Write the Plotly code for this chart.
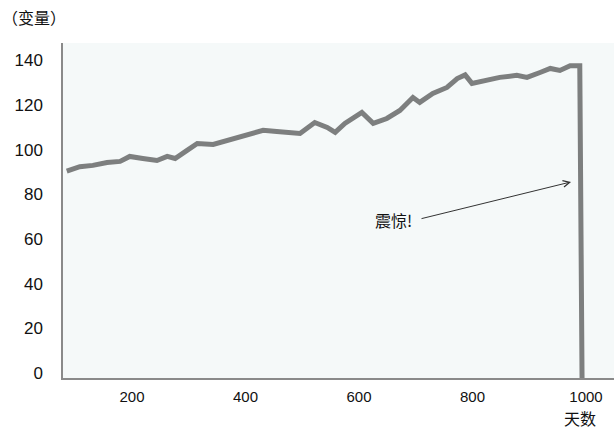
import plotly.graph_objects as go

days = [85, 108, 131, 156, 179, 196, 219, 244, 262, 276, 297, 315, 343, 367, 387,
        408, 431, 455, 478, 496, 522, 544, 558, 575, 605, 625, 649, 672, 695, 707,
        730, 755, 773, 787, 799, 826, 848, 878, 896, 919, 937, 954, 972, 989, 993]
values = [92.6, 94.6, 95.2, 96.5, 97.0, 99.2, 98.3, 97.4, 99.2, 98.3, 101.9, 105.0,
          104.6, 106.4, 107.7, 109.5, 110.9, 110.4, 110.0, 109.5, 114.4, 112.2, 110.0,
          114.0, 118.9, 114.0, 116.2, 119.8, 125.6, 123.4, 127.4, 130.1, 134.1, 135.7,
          131.9, 133.3, 134.6, 135.5, 134.6, 136.8, 138.6, 137.7, 139.8, 139.8, 0]
x_ticks = [200, 400, 600, 800, 1000]
y_ticks = [0, 20, 40, 60, 80, 100, 120, 140]

font = "Liberation Sans, Arial, sans-serif"
cjk = "Noto Sans CJK SC"

fig = go.Figure()
fig.add_trace(go.Scatter(x=days, y=values, mode="lines",
                         line=dict(color="#7d7f7f", width=5, shape="linear"),
                         hoverinfo="skip", showlegend=False))

fig.update_layout(
    width=614, height=439,
    margin=dict(l=63, r=0, t=43, b=61, autoexpand=False),
    paper_bgcolor="white",
    plot_bgcolor="#f5f9f9",
    xaxis=dict(range=[78.4, 1049.3], tickvals=x_ticks, showgrid=False, zeroline=False,
               showline=True, linecolor="#8a8a8a", linewidth=1.5,
               ticks="outside", ticklen=4, tickcolor="rgba(0,0,0,0)",
               automargin=False,
               tickfont=dict(family=font, size=15, color="#111")),
    yaxis=dict(range=[0, 150], tickvals=y_ticks, showgrid=False, zeroline=False,
               showline=True, linecolor="#8a8a8a", linewidth=1.5,
               ticks="outside", ticklen=15, tickcolor="rgba(0,0,0,0)",
               ticklabelshift=-5, automargin=False,
               tickfont=dict(family=font, size=17, color="#111")),
    annotations=[
        dict(text="（变量）", xref="paper", yref="paper", x=-63/551, y=1 + 26/335,
             xanchor="left", yanchor="middle", showarrow=False,
             font=dict(family=cjk, size=16, color="#111")),
        dict(text="天数", xref="paper", yref="paper", x=(580 - 63) / 551, y=-40/335,
             xanchor="center", yanchor="middle", showarrow=False,
             font=dict(family=cjk, size=16, color="#111")),
        dict(text="震惊!", x=660, y=70.8, xref="x", yref="y", showarrow=False,
             font=dict(family=cjk, size=16, color="#111")),
        dict(text="", x=973.6, y=87.8, ax=707.5, ay=71.2, xref="x", yref="y",
             axref="x", ayref="y", showarrow=True, arrowhead=5, arrowsize=1.3,
             arrowwidth=1, arrowcolor="#333"),
    ],
)

fig.write_html("out.html", config={"displayModeBar": False},
               post_script="document.body.style.margin='0';document.body.style.overflow='hidden';")
